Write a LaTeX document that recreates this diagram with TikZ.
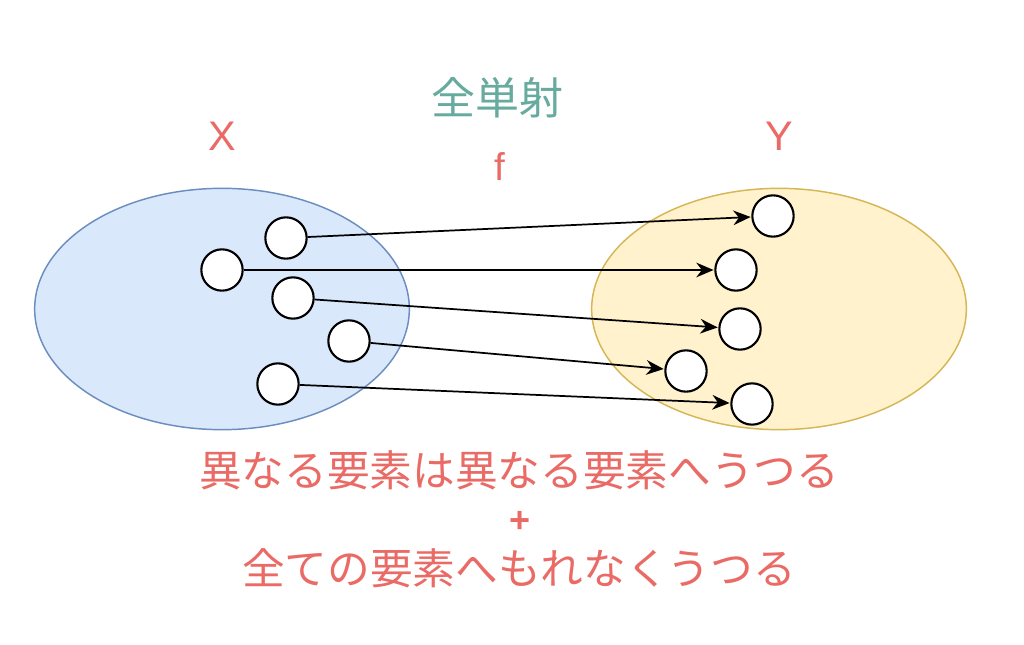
\documentclass[tikz,border=0pt]{standalone}
\usepackage{fontspec}
\setmainfont{Liberation Sans}
\newfontfamily\jp{Noto Sans CJK JP}
\usetikzlibrary{arrows.meta,shapes.geometric}
\definecolor{redtxt}{HTML}{EA6B66}
\definecolor{greentxt}{HTML}{67AB9F}
\definecolor{bluefill}{HTML}{DAE8FC}
\definecolor{bluedraw}{HTML}{6C8EBF}
\definecolor{yelfill}{HTML}{FFF2CC}
\definecolor{yeldraw}{HTML}{D6B656}
\tikzset{
  elem/.style={circle, draw=black, fill=white, line width=1.6pt, minimum size=31pt, inner sep=0pt},
  map/.style={-{Stealth[length=13pt,width=11pt]}, line width=1.3pt, shorten >=0.5pt},
  lbl/.style={text=redtxt, font=\fontsize{31}{36}\selectfont},
  jtxt/.style={text=redtxt, font=\jp\fontsize{32}{38}\selectfont},
}
\begin{document}
\begin{tikzpicture}[x=0.75pt,y=-0.75pt]
\useasboundingbox (0,0) rectangle (1024,645);
\fill[white] (0,0) rectangle (1024,645);
\node[ellipse, draw=bluedraw, fill=bluefill, line width=1.1pt, minimum width=281pt, minimum height=181pt, inner sep=0pt] (setX) at (222,309) {};
\node[ellipse, draw=yeldraw, fill=yelfill, line width=1.1pt, minimum width=281pt, minimum height=181pt, inner sep=0pt] (setY) at (779,309) {};
\node[lbl] (xl) at (222,136) {X};
\node[lbl] (yl) at (779,136) {Y};
\node[text=greentxt, font=\jp\fontsize{33}{38}\selectfont] (title) at (497,98) {全単射};
\node[lbl, font=\fontsize{29}{34}\selectfont] (fl) at (500,167) {f};
\node[elem] (a) at (286,238) {};
\node[elem] (b) at (222,270) {};
\node[elem] (c) at (293,298) {};
\node[elem] (d) at (349,341) {};
\node[elem] (e) at (278,384) {};
\node[elem] (p) at (773,216) {};
\node[elem] (q) at (736,270) {};
\node[elem] (r) at (740,329) {};
\node[elem] (s) at (686,371) {};
\node[elem] (t) at (752,404) {};
\draw[map] (a) -- (p);
\draw[map] (b) -- (q);
\draw[map] (c) -- (r);
\draw[map] (d) -- (s);
\draw[map] (e) -- (t);
\node[jtxt] (l1) at (519,470) {異なる要素は異なる要素へうつる};
\node[lbl, font=\bfseries\fontsize{27}{30}\selectfont] (plus) at (520,522) {+};
\node[jtxt] (l2) at (519,568) {全ての要素へもれなくうつる};
\end{tikzpicture}
\end{document}
